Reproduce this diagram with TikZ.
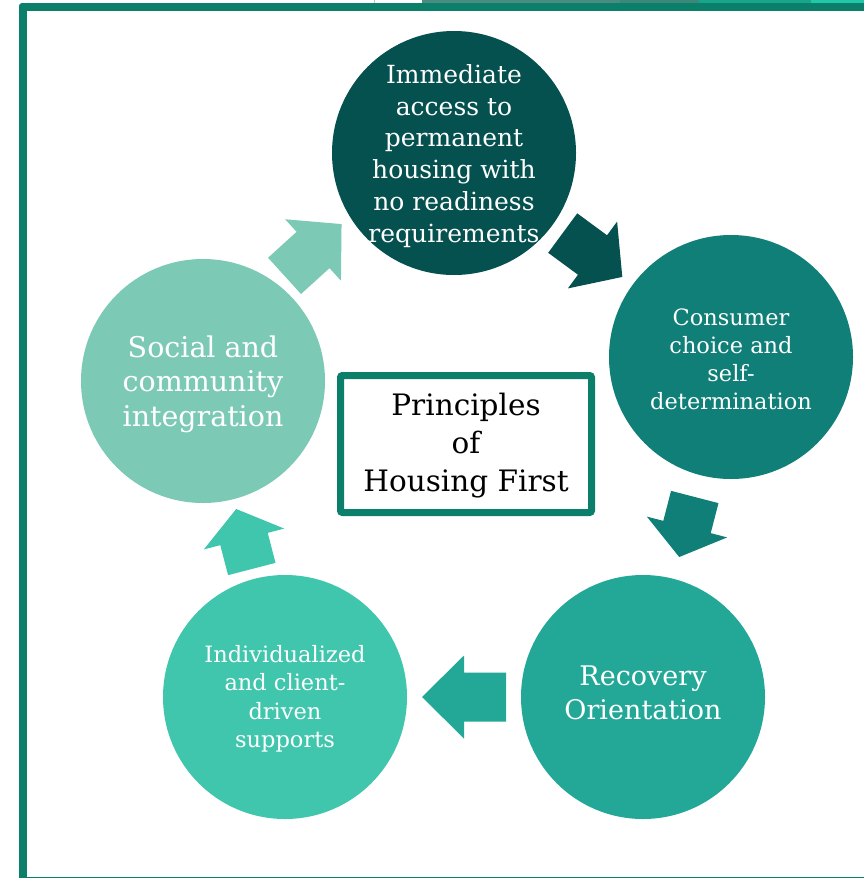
\documentclass[tikz,border=0pt]{standalone}
\usepackage{fontspec}
\setmainfont{DejaVu Serif}
\usetikzlibrary{calc}

\definecolor{framegreen}{HTML}{0B7F6A}
\definecolor{stripA}{HTML}{4B8C80}
\definecolor{stripB}{HTML}{3A897A}
\definecolor{stripC}{HTML}{17A68B}
\definecolor{stripD}{HTML}{1FC8A6}
\definecolor{tealA}{HTML}{05514F}
\definecolor{tealB}{HTML}{0F7F77}
\definecolor{tealC}{HTML}{23A898}
\definecolor{tealD}{HTML}{3FC6AD}
\definecolor{tealE}{HTML}{7CCAB5}

% Block arrow centred between two circles and aligned with their centres.
% #1 colour, #2 from node, #3 to node, #4 overall length, #5 sideways offset
\newcommand{\flowarrow}[5]{%
  \fill[#1] let \p1=(#2.center), \p2=(#3.center),
    \n1={atan2(\y2-\y1,\x2-\x1)} in
    [shift={($(\p1)!0.5!(\p2)$)}, rotate=\n1]
    ({-#4/2},{-24.5+#5}) -- (0,{-24.5+#5}) -- (0,{-41.5+#5})
    -- ({#4/2},{#5}) -- (0,{41.5+#5}) -- (0,{24.5+#5})
    -- ({-#4/2},{24.5+#5}) -- cycle;}

\begin{document}
\begin{tikzpicture}[x=1pt,y=-1pt,
  principle/.style={circle, minimum size=244pt, inner sep=0pt},
  principletext/.style={text=white, align=center, inner sep=0pt},
  titlebox/.style={draw=framegreen, line width=7pt, rounded corners=2pt,
    minimum width=251pt, minimum height=137pt, inner sep=0pt,
    fill=white},
  titletext/.style={align=center, inner sep=0pt,
    font=\fontsize{29.5}{38}\selectfont}]
\useasboundingbox (0,0) rectangle (864,878);

% page frame
\fill[framegreen, rounded corners=3pt] (19,3) rectangle (900,900);
\fill[white] (27,11) rectangle (900,877);

% strip along the top edge
\fill[black!25] (373.6,0) rectangle (374.6,3);
\fill[stripA] (422,0) rectangle (620,3);
\fill[stripB] (620,0) rectangle (699,3);
\fill[stripC] (699,0) rectangle (811,3);
\fill[stripD] (811,0) rectangle (864,3);

% the five principles
\node[principle, fill=tealA] (housing) at (454,153) {};
\node[principle, fill=tealB] (choice) at (731,357) {};
\node[principle, fill=tealC] (recovery) at (643,697) {};
\node[principle, fill=tealD] (supports) at (285,697) {};
\node[principle, fill=tealE] (community) at (203,381) {};

\node[principletext, font=\fontsize{25}{31.8}\selectfont]
  (housing-text) at ($(housing)+(0,3)$)
  {Immediate\\access to\\permanent\\housing with\\no readiness\\requirements};
\node[principletext, font=\fontsize{22.5}{28}\selectfont]
  (choice-text) at ($(choice)+(0,2)$)
  {Consumer\\choice and\\self-\\determination};
\node[principletext, font=\fontsize{27}{34}\selectfont]
  (recovery-text) at ($(recovery)+(0,-4)$)
  {Recovery\\Orientation};
\node[principletext, font=\fontsize{22.5}{28.5}\selectfont]
  (supports-text) at ($(supports)+(0,2)$)
  {Individualized\\and client-\\driven\\supports};
\node[principletext, font=\fontsize{28.5}{34.5}\selectfont]
  (community-text) at ($(community)+(0,3)$)
  {Social and\\community\\integration};

% arrows between consecutive principles
\flowarrow{tealA}{housing}{choice}{74}{0}
\flowarrow{tealB}{choice}{recovery}{62}{0}
\flowarrow{tealC}{recovery}{supports}{84}{0}
\flowarrow{tealD}{supports}{community}{62}{0}
\flowarrow{tealE}{community}{housing}{77}{-23}

% title
\node[titlebox] (principles) at (466,444) {};
\node[titletext] (principles-text) at ($(principles)+(0,2)$)
  {Principles\\of\\Housing First};
\end{tikzpicture}
\end{document}
